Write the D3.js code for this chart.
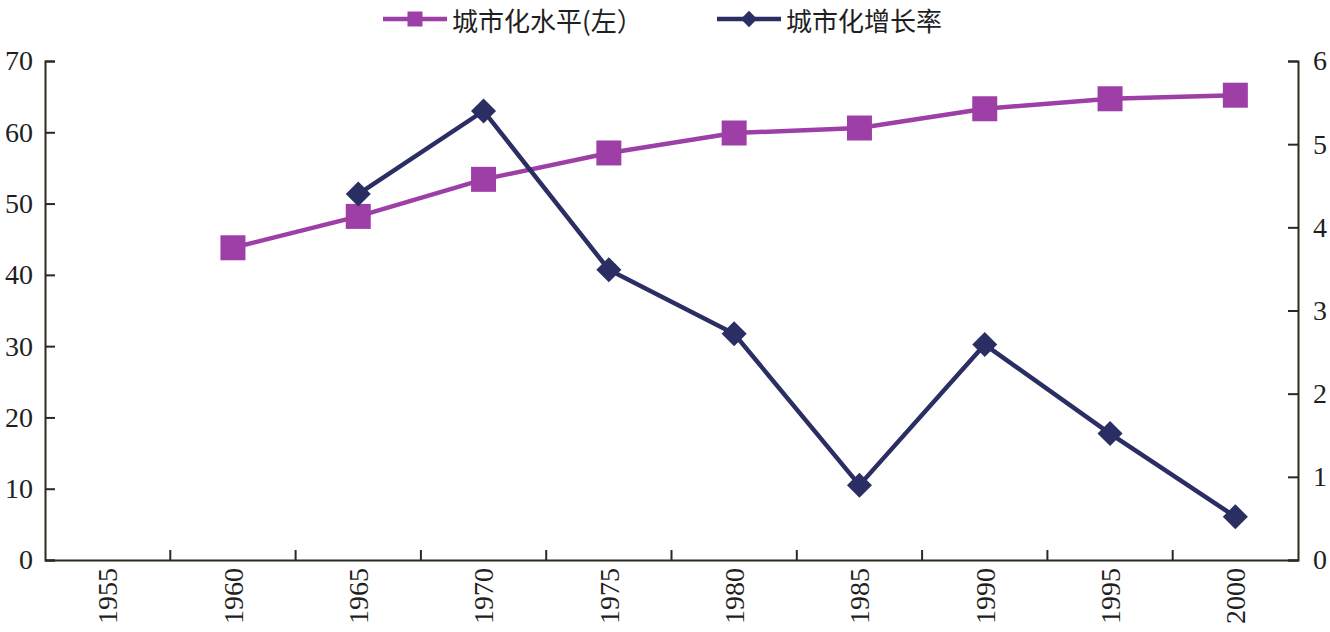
<!DOCTYPE html>
<html>
<head>
<meta charset="utf-8">
<script src="https://cdn.jsdelivr.net/npm/d3@7"></script>
<style>
  body{margin:0;background:#fff;}
  svg{display:block;}
  .axis text{font-family:"Liberation Serif","DejaVu Serif",serif;font-size:28px;fill:#1f1f1f;}
  .axis path,.axis line{stroke:#2a2a1e;stroke-width:2px;}
</style>
</head>
<body>
<svg></svg>
<script>
// data
var years=["1955","1960","1965","1970","1975","1980","1985","1990","1995","2000"];
var level=[null,43.8,48.2,53.4,57.1,59.9,60.6,63.3,64.7,65.2];
var growth=[null,null,4.40,5.40,3.49,2.72,0.90,2.59,1.52,0.52];
var leftTicks=[0,10,20,30,40,50,60,70];
var rightTicks=[0,1,2,3,4,5,6];
var seriesNames=["城市化水平(左）","城市化增长率"];

var screen={width:1330,height:632};
var margins={top:61,bottom:72,left:45,right:32};
var boxWidth=screen.width-margins.left-margins.right;
var boxHeight=screen.height-margins.top-margins.bottom;

var purple="#9d3fa6";
var navy="#2b2e62";

var svg=d3.select("svg")
          .attr("width",screen.width)
          .attr("height",screen.height);

var xScale=d3.scaleBand()
             .domain(years)
             .range([0,boxWidth]);
var yLeft=d3.scaleLinear()
            .domain([0,70])
            .range([boxHeight,0]);
var yRight=d3.scaleLinear()
             .domain([0,6])
             .range([boxHeight,0]);

var plot=svg.append("g")
            .attr("transform","translate("+margins.left+","+margins.top+")");

// left axis, ticks point inward
plot.append("g")
    .classed("axis",true)
    .call(d3.axisLeft(yLeft).tickValues(leftTicks).tickFormat(d3.format("d")).tickSize(-10).tickSizeOuter(-10).tickPadding(12));

// right axis
plot.append("g")
    .classed("axis",true)
    .attr("transform","translate("+boxWidth+",0)")
    .call(d3.axisRight(yRight).tickValues(rightTicks).tickFormat(d3.format("d")).tickSize(-10).tickSizeOuter(-10).tickPadding(15));

// bottom axis: ticks between categories
var xAxisG=plot.append("g")
    .classed("axis",true)
    .attr("transform","translate(0,"+boxHeight+")")
    .call(d3.axisBottom(xScale).tickSize(0).tickSizeOuter(0));
xAxisG.selectAll(".tick text")
    .attr("transform","rotate(-90)")
    .attr("text-anchor","end")
    .attr("x",-8)
    .attr("y",0)
    .attr("dy","0.35em");
xAxisG.selectAll("line.sep")
    .data(years.slice(1))
    .enter()
    .append("line")
    .attr("class","sep")
    .attr("x1",function(d){return xScale(d);})
    .attr("x2",function(d){return xScale(d);})
    .attr("y1",0)
    .attr("y2",-10);

var cx=function(i){return xScale(years[i])+xScale.bandwidth()/2;};

// urbanization level line
var levelLine=d3.line()
    .defined(function(d){return d!=null;})
    .x(function(d,i){return cx(i);})
    .y(function(d){return yLeft(d);});
plot.append("path")
    .datum(level)
    .attr("d",levelLine)
    .attr("fill","none")
    .attr("stroke",purple)
    .attr("stroke-width",4.5);

// growth line
var growthLine=d3.line()
    .defined(function(d){return d!=null;})
    .x(function(d,i){return cx(i);})
    .y(function(d){return yRight(d);});
plot.append("path")
    .datum(growth)
    .attr("d",growthLine)
    .attr("fill","none")
    .attr("stroke",navy)
    .attr("stroke-width",4.5);

var square=d3.symbol().type(d3.symbolSquare).size(25*25);
var diamond=d3.symbol().type(d3.symbolDiamond2).size(20*20);

plot.selectAll(".sq")
    .data(level.map(function(v,i){return {v:v,i:i};}).filter(function(d){return d.v!=null;}))
    .enter()
    .append("path")
    .attr("d",square)
    .attr("fill",purple)
    .attr("transform",function(d){return "translate("+cx(d.i)+","+yLeft(d.v)+")";});

plot.selectAll(".dm")
    .data(growth.map(function(v,i){return {v:v,i:i};}).filter(function(d){return d.v!=null;}))
    .enter()
    .append("path")
    .attr("d",diamond)
    .attr("fill",navy)
    .attr("transform",function(d){return "translate("+cx(d.i)+","+yRight(d.v)+")";});

// legend
var legend=svg.append("g").attr("transform","translate(0,19)");
var items=[{x:383,color:purple,sym:d3.symbol().type(d3.symbolSquare).size(15*15),name:seriesNames[0]},
           {x:717,color:navy,sym:d3.symbol().type(d3.symbolDiamond2).size(13*13),name:seriesNames[1]}];
var li=legend.selectAll("g")
    .data(items)
    .enter()
    .append("g")
    .attr("transform",function(d){return "translate("+d.x+",0)";});
li.append("line")
  .attr("x1",0).attr("x2",64)
  .attr("stroke",function(d){return d.color;})
  .attr("stroke-width",4.5);
li.append("path")
  .attr("d",function(d){return d.sym();})
  .attr("fill",function(d){return d.color;})
  .attr("transform","translate(32,0)");
li.append("text")
  .attr("x",69)
  .attr("y",12)
  .style("font-family","'Noto Sans CJK SC',sans-serif")
  .style("font-size","26px")
  .attr("fill","#1f1f1f")
  .text(function(d){return d.name;});
</script>
</body>
</html>
